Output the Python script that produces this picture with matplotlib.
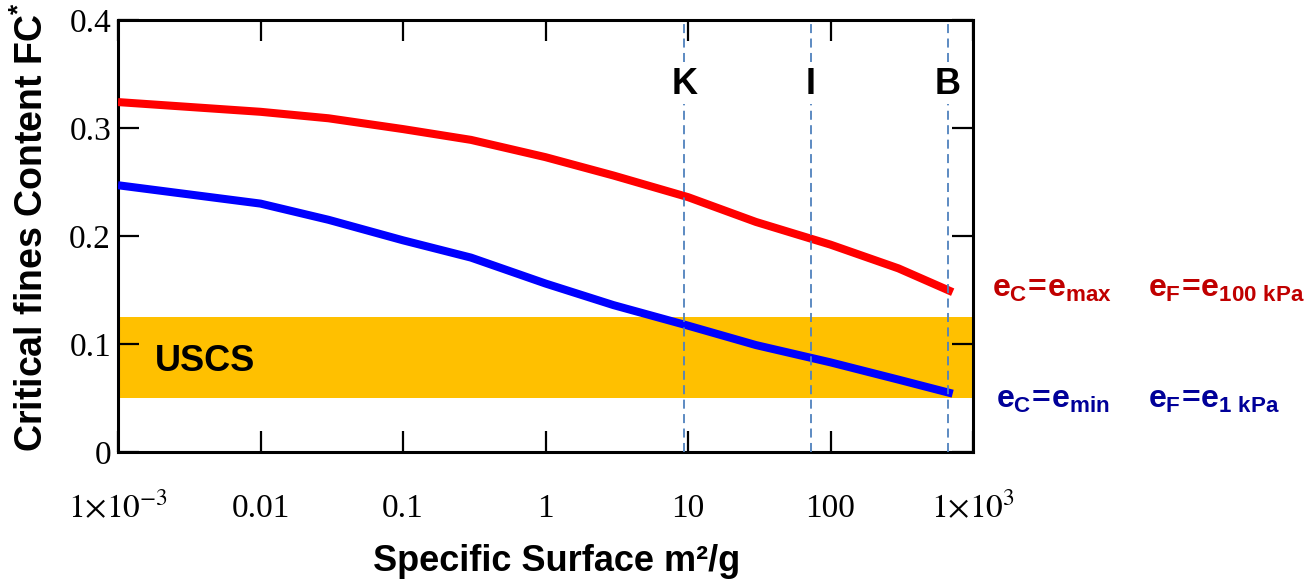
import matplotlib
matplotlib.use("Agg")
import matplotlib.pyplot as plt
import numpy as np

# ---- data ----
surface = [1e-3, 0.01, 0.03, 0.1, 0.3, 1, 3, 10, 30, 100, 300, 720]
fc_max = [0.324, 0.315, 0.309, 0.299, 0.289, 0.273, 0.256, 0.236, 0.213, 0.192, 0.170, 0.148]
fc_min = [0.247, 0.230, 0.215, 0.196, 0.180, 0.156, 0.136, 0.117, 0.099, 0.083, 0.067, 0.054]
uscs_band = [0.05, 0.125]
soil_names = ["K", "I", "B"]
soil_surface = [9.4, 73, 668]
xticks = [1e-3, 0.01, 0.1, 1, 10, 100, 1e3]
xtick_labels = [r"$1{\times}10^{-3}$", "0.01", "0.1", "1", "10", "100", r"$1{\times}10^{3}$"]
yticks = [0, 0.1, 0.2, 0.3, 0.4]
ytick_labels = ["0", "0.1", "0.2", "0.3", "0.4"]

plt.rcParams["mathtext.fontset"] = "stix"
plt.rcParams["mathtext.rm"] = "Liberation Sans:bold"
plt.rcParams["mathtext.it"] = "Liberation Sans:bold"
plt.rcParams["mathtext.bf"] = "Liberation Sans:bold"

fig = plt.figure(figsize=(13.05, 5.81), dpi=100)
ax = fig.add_axes([118 / 1305, 1 - 452 / 581, (973 - 118) / 1305, (452 - 20) / 581])

ax.set_xscale("log")
ax.set_xlim(1e-3, 1e3)
ax.set_ylim(0, 0.4)

ax.axhspan(uscs_band[0], uscs_band[1], color="#FFC000", zorder=1, lw=0)
ax.plot(surface, fc_max, color="#FF0000", lw=5.8, zorder=3, solid_capstyle="butt")
ax.plot(surface, fc_min, color="#0000FF", lw=5.8, zorder=3, solid_capstyle="butt")

for name, xs in zip(soil_names, soil_surface):
    ax.axvline(xs, color="#4F81BD", lw=1.3, ls=(0, (5, 3)), zorder=4)
    ax.text(xs, 0.34, name, ha="center", va="center", fontsize=26,
            fontfamily="Liberation Sans", fontweight="bold", zorder=5,
            bbox=dict(facecolor="white", edgecolor="none", pad=1))

ax.text(1.8e-3, 0.0835, "USCS", ha="left", va="center", fontsize=26,
        fontfamily="Liberation Sans", fontweight="bold", zorder=5)

ax.set_xticks(xticks)
ax.set_xticklabels(xtick_labels, fontfamily="Liberation Serif", fontsize=24, va="baseline")
ax.xaxis.set_minor_locator(matplotlib.ticker.NullLocator())
ax.set_yticks(yticks)
ax.set_yticklabels(ytick_labels, fontfamily="Liberation Serif", fontsize=24)

ax.tick_params(axis="both", which="major", direction="in", length=15, width=1.6,
               top=True, right=True)
ax.tick_params(axis="x", pad=47)
ax.tick_params(axis="y", pad=5)
for sp in ax.spines.values():
    sp.set_linewidth(2.2)

ax.set_xlabel("Specific Surface m²/g", fontfamily="Liberation Sans", fontweight="bold", fontsize=26)
ax.xaxis.label.set_va("baseline")
ax.xaxis.set_label_coords(0.513, -0.275)
ax.set_ylabel(r"Critical fines Content FC$^{*}$", fontfamily="Liberation Sans",
              fontweight="bold", fontsize=27, math_fontfamily="custom")
ax.yaxis.set_label_coords(-0.078, 0.52)

red_txt = "#C00000"
blue_txt = "#000099"
fig.text(0.760, 0.489, r"$e_{C}\!=\!e_{max}$", color=red_txt, fontsize=23, math_fontfamily="custom")
fig.text(0.880, 0.489, r"$e_{F}\!=\!e_{100\ kPa}$", color=red_txt, fontsize=23, math_fontfamily="custom")
fig.text(0.763, 0.298, r"$e_{C}\!=\!e_{min}$", color=blue_txt, fontsize=23, math_fontfamily="custom")
fig.text(0.880, 0.298, r"$e_{F}\!=\!e_{1\ kPa}$", color=blue_txt, fontsize=23, math_fontfamily="custom")

fig.savefig("out.png", dpi=100)
